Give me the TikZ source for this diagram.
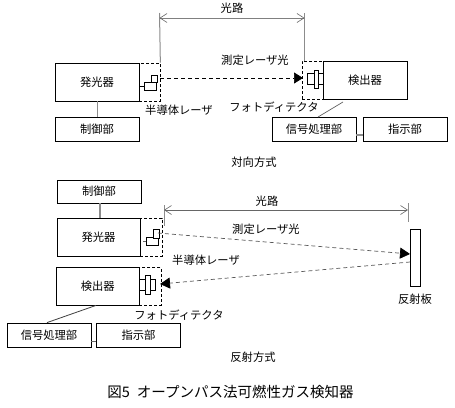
\documentclass[tikz,border=0pt]{standalone}
\usepackage{fontspec}
\setmainfont{Noto Sans CJK JP}
\usetikzlibrary{arrows.meta}
\tikzset{
  box/.style={draw=black,line width=0.8pt,inner sep=0pt,font=\fontsize{11.3}{13}\selectfont},
  dbox/.style={draw=black,dashed,dash pattern=on 3pt off 2pt,line width=0.7pt,inner sep=0pt},
  part/.style={draw=black,fill=white,line width=0.7pt,inner sep=0pt},
  lbl/.style={inner sep=0pt,font=\fontsize{11.3}{13}\selectfont},
  link/.style={line width=0.9pt,draw=black!45},
  ext/.style={line width=1pt,draw=black!45},
  dimline/.style={line width=1pt,draw=black!50,{Straight Barb[length=7pt,width=9pt,color=black!60,line width=.6pt]}-{Straight Barb[length=7pt,width=9pt,color=black!60,line width=.6pt]}},
}
\begin{document}
\begin{tikzpicture}[x=1pt,y=-1pt]
\useasboundingbox (0,0) rectangle (455,407);
\fill[white] (0,0) rectangle (455,407);

% --- top: facing type
\node[box,minimum width=84pt,minimum height=38pt] (e1) at (97,82) {発光器};
\node[dbox,minimum width=21pt,minimum height=38pt] (ed1) at (149.5,82) {};
\node[box,minimum width=84pt,minimum height=24pt] (c1) at (97,129) {制御部};
\node[part,minimum width=12.5pt,minimum height=8pt] (la1) at (150.5,86) {};
\node[part,minimum width=6pt,minimum height=7pt] (lb1) at (154,78.5) {};
\draw[line width=.7pt] (e1.east|-la1) -- (la1.west);
\draw[link] (e1.south) -- (c1.north);

\node[box,minimum width=84pt,minimum height=38pt] (d1) at (365,80) {検出器};
\node[dbox,minimum width=21pt,minimum height=38pt] (dd1) at (312.5,80) {};
\node[part,minimum width=16pt,minimum height=11pt] (pa1) at (315,78.5) {};
\node[part,minimum width=4pt,minimum height=18pt] (pb1) at (316,79) {};
\node[box,minimum width=84pt,minimum height=24pt] (s1) at (314,129) {信号処理部};
\node[box,minimum width=84pt,minimum height=24pt] (i1) at (405,129) {指示部};
\coordinate (dg1) at (343,102);
\coordinate (sg1) at (318,117);
\draw[line width=.7pt,draw=black!60] (dg1) -- (sg1);
\draw[link,line width=1.1pt] (s1.east|-0,135) -- (i1.west|-0,135);

\coordinate (u1) at (159.5,13);
\coordinate (v1) at (304.5,13);
\coordinate (a1) at (159.5,18);
\coordinate (b1) at (304.5,18);
\draw[ext] (u1) -- (ed1.north east);
\draw[ext] (v1) -- (v1|-dd1.north);
\draw[dimline] (a1) -- (b1);
\draw[dashed,dash pattern=on 4pt off 3pt,line width=.7pt,-{Triangle[length=9pt,width=11pt]}] (ed1.east|-0,78) -- (303,78);

\node[lbl] (t1) at (232,8) {光路};
\node[lbl] (t2) at (255,60) {測定レーザ光};
\node[lbl] (t3) at (179,110) {半導体レーザ};
\node[lbl] (t4) at (274,107) {フォトディテクタ};
\node[lbl] (t5) at (254,162) {対向方式};

% --- bottom: reflective type
\node[box,minimum width=84pt,minimum height=23pt] (c2) at (99,191.5) {制御部};
\node[box,minimum width=83pt,minimum height=38pt] (e2) at (98.5,237) {発光器};
\node[dbox,minimum width=22pt,minimum height=38pt] (ed2) at (151,237) {};
\node[part,minimum width=12pt,minimum height=7.5pt] (la2) at (152,241.5) {};
\node[part,minimum width=6pt,minimum height=9pt] (lb2) at (156,233.5) {};
\draw[line width=.5pt,draw=black!60] (143,241.5) -- (la2.west);
\draw[link,line width=1.2pt] (c2.south-|100,0) -- (e2.north-|100,0);

\node[box,minimum width=83.5pt,minimum height=38pt] (d2) at (97.7,286) {検出器};
\node[dbox,minimum width=21.5pt,minimum height=38pt] (dd2) at (150.2,286) {};
\node[part,minimum width=15.5pt,minimum height=11pt] (pa2) at (147.2,284.5) {};
\node[part,minimum width=5pt,minimum height=19pt] (pb2) at (147.5,284.5) {};
\node[box,minimum width=84pt,minimum height=24pt] (s2) at (49,335) {信号処理部};
\node[box,minimum width=84pt,minimum height=24pt] (i2) at (138.5,335) {指示部};
\draw[line width=.8pt,draw=black!75] (d2.south-|96,0) -- (s2.north-|47,0);
\draw[line width=.6pt,draw=black!60] (s2.east|-0,341) -- (i2.west|-0,341);

\node[draw=black,line width=.8pt,inner sep=0pt,minimum width=10pt,minimum height=57pt] (r) at (415,257.5) {};

\coordinate (u2) at (164,205);
\coordinate (u3) at (164,226);
\coordinate (v2) at (408,203);
\coordinate (v3) at (408,222);
\coordinate (a2) at (164,210);
\coordinate (b2) at (408,210);
\draw[ext] (u2) -- (u3);
\draw[ext] (v2) -- (v3);
\draw[dimline,draw=black!60] (a2) -- (b2);

\coordinate (f1) at (158,233);
\coordinate (f2) at (410,254);
\coordinate (g1) at (410,262);
\coordinate (g2) at (160,284);
\draw[dashed,dash pattern=on 4pt off 3pt,line width=.7pt,draw=black!65,-{Triangle[length=10pt,width=11pt,color=black]}] (f1) -- (f2);
\draw[dashed,dash pattern=on 4pt off 3pt,line width=.7pt,draw=black!65,-{Triangle[length=10pt,width=11pt,color=black]}] (g1) -- (g2);

\node[lbl] (b1t) at (267,201) {光路};
\node[lbl] (b2t) at (266,229) {測定レーザ光};
\node[lbl] (b3t) at (206,260) {半導体レーザ};
\node[lbl] (b4t) at (179,315) {フォトディテクタ};
\node[lbl] (b5t) at (415,299) {反射板};
\node[lbl] (b6t) at (253,357) {反射方式};
\node[inner sep=0pt,font=\fontsize{14.5}{16}\selectfont] (cap) at (230.5,392) {図5\hspace{7pt}オープンパス法可燃性ガス検知器};
\end{tikzpicture}
\end{document}
